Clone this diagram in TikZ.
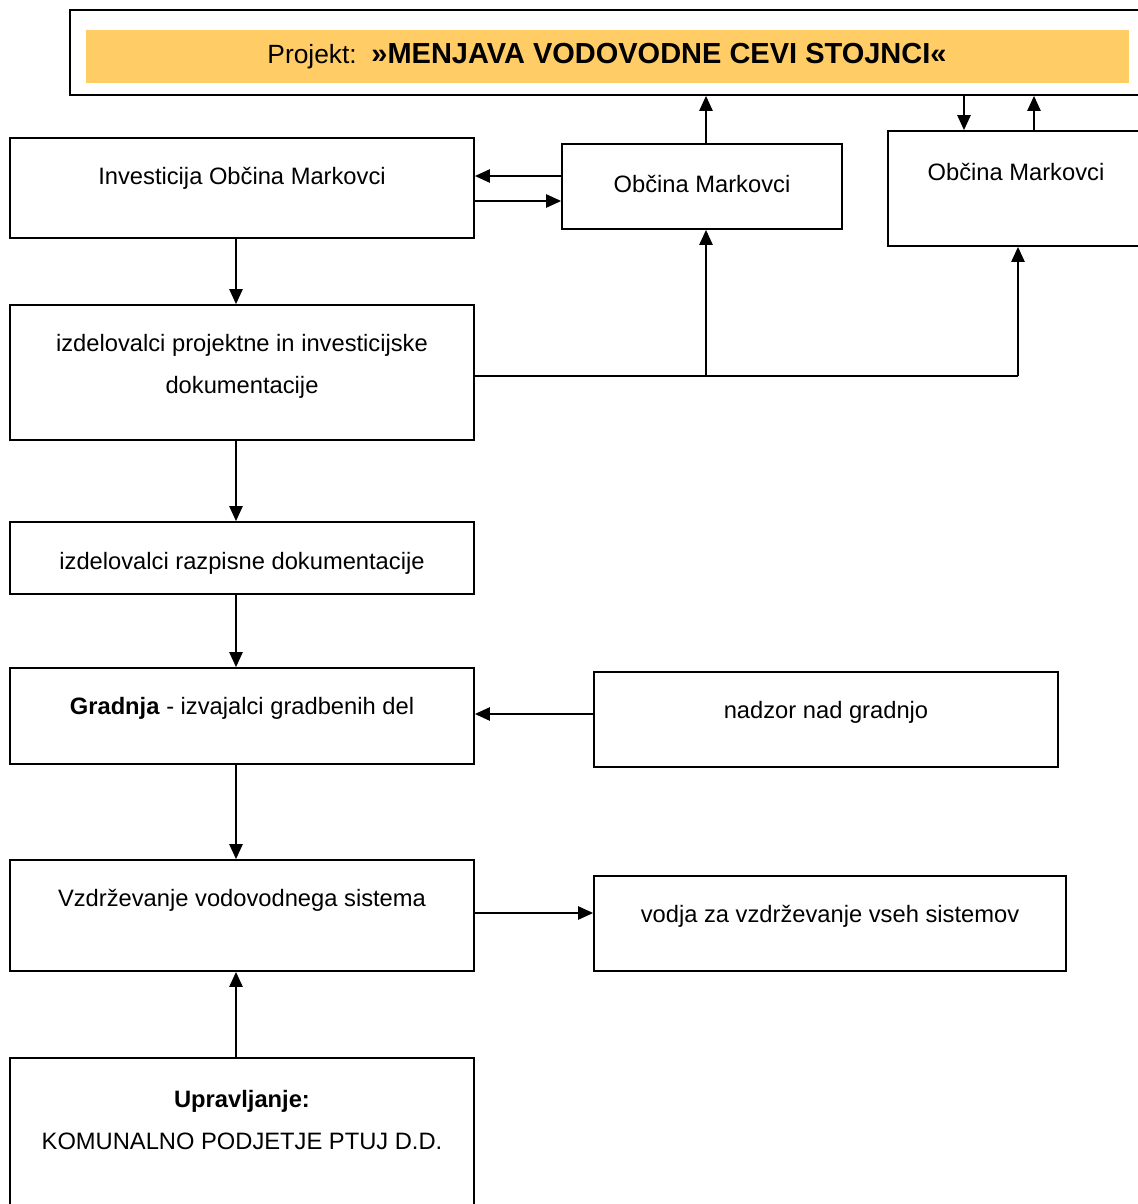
\documentclass[tikz,border=0pt]{standalone}
\usepackage{fontspec}
\setmainfont{Liberation Sans}
\usetikzlibrary{arrows.meta,fit}
\definecolor{titleorange}{RGB}{255,204,102}
\tikzset{
  box/.style={draw, line width=1pt, inner sep=0pt},
  txt/.style={font=\fontsize{13.5}{23.8}\selectfont, align=center, inner sep=0pt},
  arr/.style={-{Triangle[length=8.5pt,width=7.5pt]}, line width=1pt},
  link/.style={line width=1pt},
}
\begin{document}
\begin{tikzpicture}[x=0.02cm, y=-0.02cm]
	\useasboundingbox (0,0) rectangle (1137,1204);
	% title frame
	\node[box, fit={(70,10) (1150,95)}] (proj) {};
	\fill[titleorange] (86,30) rectangle (1129,83);
	\node[txt] (projt) at (607,56) {\fontsize{15}{18}\selectfont Projekt:\ \ \fontsize{16.5}{18}\selectfont\bfseries »MENJAVA VODOVODNE CEVI STOJNCI«};
	% boxes
	\node[box, fit={(10,138) (474,238)}] (inv) {};
	\node[txt] at (242,178) {Investicija Občina Markovci};
	\node[box, fit={(562,144) (842,229)}] (om) {};
	\node[txt] at (702,184) {Občina Markovci};
	\node[box, fit={(888,131) (1150,246)}] (omr) {};
	\node[txt] at (1016,172) {Občina Markovci};
	\node[box, fit={(10,305) (474,440)}] (izd) {};
	\node[txt] at (242,366) {izdelovalci projektne in investicijske\\dokumentacije};
	\node[box, fit={(10,522) (474,594)}] (razp) {};
	\node[txt] at (242,563) {izdelovalci razpisne dokumentacije};
	\node[box, fit={(10,668) (474,764)}] (grad) {};
	\node[txt] at (242,708) {\textbf{Gradnja} - izvajalci gradbenih del};
	\node[box, fit={(594,672) (1058,767)}] (nadz) {};
	\node[txt] at (826,712) {nadzor nad gradnjo};
	\node[box, fit={(10,860) (474,971)}] (vzd) {};
	\node[txt] at (242,900) {Vzdrževanje vodovodnega sistema};
	\node[box, fit={(594,876) (1066,971)}] (vodja) {};
	\node[txt] at (830,916) {vodja za vzdrževanje vseh sistemov};
	\node[box, fit={(10,1058) (474,1215)}] (upr) {};
	\node[txt] at (242,1120) {\textbf{Upravljanje:}\\KOMUNALNO PODJETJE PTUJ D.D.};
	% connectors
	\coordinate (col) at (236,0);
	\coordinate (x1) at (706,376);
	\coordinate (x2) at (1018,376);
	\coordinate (a1) at (964,0);
	\coordinate (a2) at (1034,0);
	\coordinate (h1) at (0,176);
	\coordinate (h2) at (0,201);
	\draw[arr] (inv.south -| col) -- (izd.north -| col);
	\draw[arr] (izd.south -| col) -- (razp.north -| col);
	\draw[arr] (razp.south -| col) -- (grad.north -| col);
	\draw[arr] (grad.south -| col) -- (vzd.north -| col);
	\draw[arr] (upr.north -| col) -- (vzd.south -| col);
	\draw[arr] (om.west |- h1) -- (inv.east |- h1);
	\draw[arr] (inv.east |- h2) -- (om.west |- h2);
	\draw[arr] (om.north -| x1) -- (proj.south -| x1);
	\draw[arr] (proj.south -| a1) -- (omr.north -| a1);
	\draw[arr] (omr.north -| a2) -- (proj.south -| a2);
	\draw[link] (izd.east |- x1) -- (x2);
	\draw[arr] (x1) -- (om.south -| x1);
	\draw[arr] (x2) -- (omr.south -| x2);
	\draw[arr] (nadz.west |- 0,714) -- (grad.east |- 0,714);
	\draw[arr] (vzd.east |- 0,913) -- (vodja.west |- 0,913);
\end{tikzpicture}
\end{document}
